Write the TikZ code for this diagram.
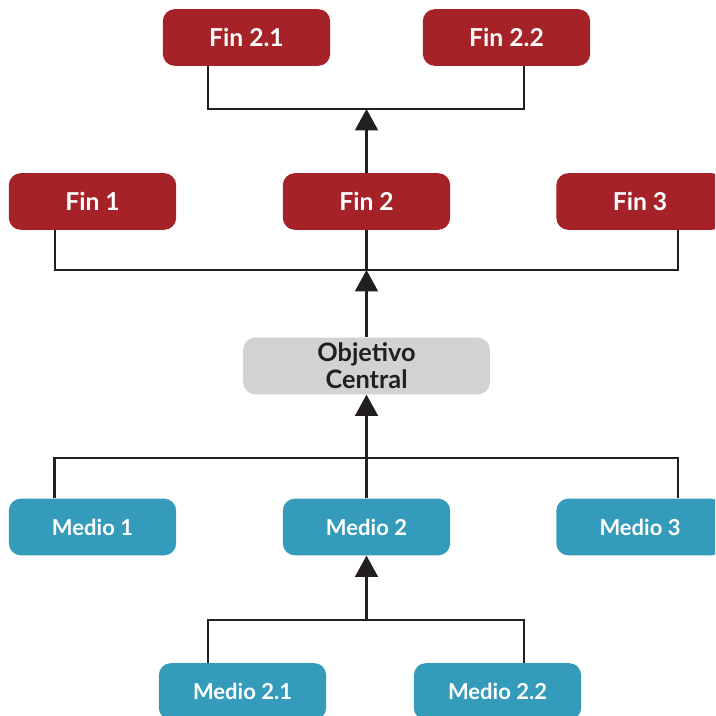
\documentclass[tikz,border=0pt]{standalone}
\usepackage{fontspec}
\setmainfont{Lato}
\usetikzlibrary{calc, arrows.meta}
\definecolor{rojo}{HTML}{A52228}
\definecolor{azul}{HTML}{349BBA}
\definecolor{gris}{HTML}{D1D2D4}
\definecolor{trazo}{HTML}{231F20}
\tikzset{>={Triangle[length=16pt,width=17pt]},
  caja/.style={rounded corners=9pt, minimum width=125.5pt, minimum height=42.5pt, inner sep=0pt, align=center},
  fin/.style={caja, fill=rojo, text=white, font=\bfseries\fontsize{18.5}{20}\selectfont},
  medio/.style={caja, fill=azul, text=white, font=\bfseries\fontsize{16.5}{18}\selectfont},
  objetivo/.style={caja, fill=gris, text=trazo, minimum width=185pt, font=\bfseries\fontsize{19}{20}\selectfont},
  linea/.style={line width=2pt, trazo}
}

\begin{document}
\begin{tikzpicture}[x=0.75pt, y=-0.75pt]
\useasboundingbox (0,0) rectangle (715,716);
\clip (0,0) rectangle (715,716);
\node[fin] (fin21) at (246.5,37.5) {Fin 2.1};
\node[fin] (fin22) at (506.5,37.5) {Fin 2.2};
\node[fin] (fin1) at (92.5,201.5) {Fin 1};
\node[fin] (fin2) at (366.5,201.5) {Fin 2};
\node[fin] (fin3) at (640,201.5) {Fin 3};
\node[objetivo] (obj) at (366.5,366) {Objetivo\\Central};
\node[medio] (med1) at (92.5,527) {Medio 1};
\node[medio] (med2) at (366.5,527) {Medio 2};
\node[medio] (med3) at (640,527) {Medio 3};
\node[medio] (med21) at (242.5,691.5) {Medio 2.1};
\node[medio] (med22) at (497.5,691.5) {Medio 2.2};
\coordinate (j1) at (366.5,109);
\coordinate (j2) at (366.5,270);
\coordinate (j3) at (366.5,458);
\coordinate (j4) at (366.5,620);
\draw[linea] ($(fin21.south)+(-38.5,0)$) |- (j1) -| ($(fin22.south)+(17.5,0)$);
\draw[linea, ->] (fin2.north) -- (j1);
\draw[linea] ($(fin1.south)+(-37.5,0)$) |- (j2) -| ($(fin3.south)+(38,0)$);
\draw[linea] (fin2.south) -- (j2);
\draw[linea, ->] (obj.north) -- (j2);
\draw[linea, ->] (j3) -- (obj.south);
\draw[linea] ($(med1.north)+(-38,0)$) |- (j3) -| ($(med3.north)+(38,0)$);
\draw[linea] (med2.north) -- (j3);
\draw[linea, ->] (j4) -- (med2.south);
\draw[linea] ($(med21.north)+(-34.5,0)$) |- (j4) -| ($(med22.north)+(26.5,0)$);
\end{tikzpicture}
\end{document}
